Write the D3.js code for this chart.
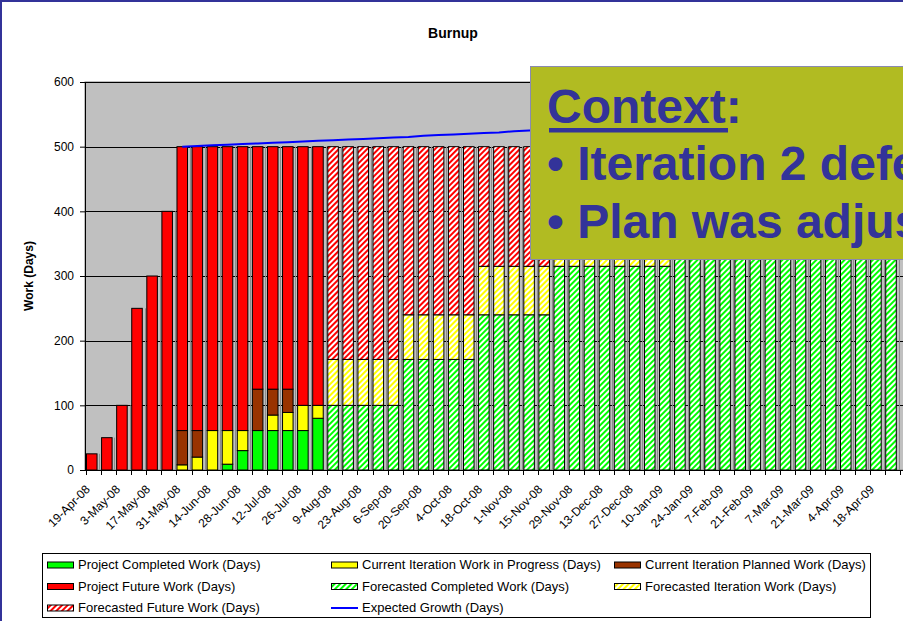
<!DOCTYPE html>
<html>
<head>
<meta charset="utf-8">
<script src="https://cdn.jsdelivr.net/npm/d3@7"></script>
<style>
  body { margin: 0; background: #fff; }
  svg { display: block; font-family: "Liberation Sans", Arial, sans-serif; }
</style>
</head>
<body>
<svg id="chart" width="903" height="621"></svg>
<script>

/**
 * burnup data - one value per week, stacked bottom to top
 */
var week_labels = [
  '19-Apr-08', '26-Apr-08', '3-May-08', '10-May-08', '17-May-08', '24-May-08', '31-May-08', '7-Jun-08',
  '14-Jun-08', '21-Jun-08', '28-Jun-08', '5-Jul-08', '12-Jul-08', '19-Jul-08', '26-Jul-08', '2-Aug-08',
  '9-Aug-08', '16-Aug-08', '23-Aug-08', '30-Aug-08', '6-Sep-08', '13-Sep-08', '20-Sep-08', '27-Sep-08',
  '4-Oct-08', '11-Oct-08', '18-Oct-08', '25-Oct-08', '1-Nov-08', '8-Nov-08', '15-Nov-08', '22-Nov-08',
  '29-Nov-08', '6-Dec-08', '13-Dec-08', '20-Dec-08', '27-Dec-08', '3-Jan-09', '10-Jan-09', '17-Jan-09',
  '24-Jan-09', '31-Jan-09', '7-Feb-09', '14-Feb-09', '21-Feb-09', '28-Feb-09', '7-Mar-09', '14-Mar-09',
  '21-Mar-09', '28-Mar-09', '4-Apr-09', '11-Apr-09', '18-Apr-09', '25-Apr-09'
];

var project_completed = [
  0, 0, 0, 0, 0, 0, 0, 0, 0, 9, 30, 61, 61, 61, 61, 80,
  0, 0, 0, 0, 0, 0, 0, 0, 0, 0, 0, 0, 0, 0, 0, 0, 0, 0, 0, 0, 0, 0, 0, 0,
  0, 0, 0, 0, 0, 0, 0, 0, 0, 0, 0, 0, 0, 0
];
var iteration_in_progress = [
  0, 0, 0, 0, 0, 0, 8, 20, 61, 52, 31, 0, 24, 28, 39, 20,
  0, 0, 0, 0, 0, 0, 0, 0, 0, 0, 0, 0, 0, 0, 0, 0, 0, 0, 0, 0, 0, 0, 0, 0,
  0, 0, 0, 0, 0, 0, 0, 0, 0, 0, 0, 0, 0, 0
];
var iteration_planned = [
  0, 0, 0, 0, 0, 0, 53, 41, 0, 0, 0, 64, 40, 36, 0, 0,
  0, 0, 0, 0, 0, 0, 0, 0, 0, 0, 0, 0, 0, 0, 0, 0, 0, 0, 0, 0, 0, 0, 0, 0,
  0, 0, 0, 0, 0, 0, 0, 0, 0, 0, 0, 0, 0, 0
];
var project_future = [
  25, 50, 100, 250, 300, 400, 439, 439, 439, 439, 439, 375, 375, 375, 400, 400,
  0, 0, 0, 0, 0, 0, 0, 0, 0, 0, 0, 0, 0, 0, 0, 0, 0, 0, 0, 0, 0, 0, 0, 0,
  0, 0, 0, 0, 0, 0, 0, 0, 0, 0, 0, 0, 0, 0
];
var forecast_completed = [
  0, 0, 0, 0, 0, 0, 0, 0, 0, 0, 0, 0, 0, 0, 0, 0,
  100, 100, 100, 100, 100, 171, 171, 171, 171, 171, 240, 240, 240, 240, 240,
  315, 315, 315, 315, 315, 315, 315, 315,
  385, 385, 385, 385, 385, 385, 385, 385, 385, 385, 385, 385, 385, 385, 385
];
var forecast_iteration = [
  0, 0, 0, 0, 0, 0, 0, 0, 0, 0, 0, 0, 0, 0, 0, 0,
  71, 71, 71, 71, 71, 69, 69, 69, 69, 69, 75, 75, 75, 75, 75,
  70, 70, 70, 70, 70, 70, 70, 70,
  70, 70, 70, 70, 70, 70, 70, 70, 70, 70, 70, 70, 70, 70, 70
];
var forecast_future = [
  0, 0, 0, 0, 0, 0, 0, 0, 0, 0, 0, 0, 0, 0, 0, 0,
  329, 329, 329, 329, 329, 260, 260, 260, 260, 260, 185, 185, 185, 185, 185,
  115, 115, 115, 115, 115, 115, 115, 115,
  45, 45, 45, 45, 45, 45, 45, 45, 45, 45, 45, 45, 45, 45, 45
];
var expected_growth = [
  null, null, null, null, null, null, 500, 501, 502, 503, 504, 505, 506, 507, 508, 509,
  510, 511, 512, 513, 514, 515, 517, 518, 519, 520, 521, 522, 524, 525, 526, 527,
  528, 529, 531, 532, 533, 534, 535, 536, 538, 539, 540, 541, 542, 543, 545, 546,
  547, 548, 549, 550, 552, 553
];

var y_ticks = [0, 100, 200, 300, 400, 500, 600];

var series_keys = ['completed', 'in_progress', 'planned', 'future', 'fc_completed', 'fc_iteration', 'fc_future'];


/**
 * chart container
 */
var app_burnup_chart = (function () {

  var svg = d3.select('#chart');

  var plot_top = 82, plot_bottom = 470, plot_left = 85;
  var bar_start = 86, bar_step = 15.08, bar_pad = 0.235;
  var n = week_labels.length;

  var x = d3.scaleBand()
    .domain(d3.range(n))
    .range([bar_start, bar_start + bar_step * (n - bar_pad)])
    .paddingInner(bar_pad)
    .paddingOuter(0);

  var y = d3.scaleLinear().domain([0, 600]).range([plot_bottom, plot_top]);

  var fills = {
    'completed' : '#00ff00',
    'in_progress' : '#ffff00',
    'planned' : '#993300',
    'future' : '#ff0000',
    'fc_completed' : 'url(#hatch_green)',
    'fc_iteration' : 'url(#hatch_yellow)',
    'fc_future' : 'url(#hatch_red)'
  };

  var rows = week_labels.map(function (w, i) {
    return {
      'completed' : project_completed[i],
      'in_progress' : iteration_in_progress[i],
      'planned' : iteration_planned[i],
      'future' : project_future[i],
      'fc_completed' : forecast_completed[i],
      'fc_iteration' : forecast_iteration[i],
      'fc_future' : forecast_future[i]
    };
  });

  var totals = rows.map(function (r) {
    return d3.sum(series_keys, function (k) { return r[k]; });
  });

  function initPatterns() {
    var defs = svg.append('defs');
    [['hatch_green', '#00ff00'], ['hatch_yellow', '#ffff00'], ['hatch_red', '#ff0000']].forEach(function (p) {
      var pat = defs.append('pattern')
        .attr('id', p[0])
        .attr('patternUnits', 'userSpaceOnUse')
        .attr('width', 4).attr('height', 4)
        .attr('patternTransform', 'rotate(45)');
      pat.append('rect').attr('width', 4).attr('height', 4).attr('fill', '#fff');
      pat.append('rect').attr('width', 2.2).attr('height', 4).attr('fill', p[1])
        .attr('shape-rendering', 'crispEdges');
    });
  }

  function drawFrame() {
    // outer blue frame (only left and top are inside the window)
    svg.append('rect')
      .attr('x', 1).attr('y', 1).attr('width', 1200).attr('height', 1200)
      .attr('fill', 'none').attr('stroke', '#333399').attr('stroke-width', 2);

    svg.append('text')
      .attr('x', 453).attr('y', 38)
      .attr('text-anchor', 'middle')
      .attr('font-size', 14).attr('font-weight', 'bold')
      .text('Burnup');
  }

  function drawPlotArea() {
    svg.append('rect')
      .attr('x', plot_left).attr('y', plot_top)
      .attr('width', 903 - plot_left + 20).attr('height', plot_bottom - plot_top)
      .attr('fill', '#c0c0c0').attr('stroke', '#808080');

    // horizontal gridlines
    svg.append('g').selectAll('line')
      .data(y_ticks.slice(1))
      .enter()
      .append('line')
      .attr('x1', plot_left).attr('x2', 910)
      .attr('y1', function (d) { return Math.round(y(d)) + 0.5; })
      .attr('y2', function (d) { return Math.round(y(d)) + 0.5; })
      .attr('stroke', '#000');

    // thin separators in the gaps, only as high as the lower neighbour bar
    svg.append('g').selectAll('line')
      .data(d3.range(1, n + 1))
      .enter()
      .append('line')
      .attr('x1', function (i) { return Math.round(bar_start + bar_step * i - 1.7) + 0.5; })
      .attr('x2', function (i) { return Math.round(bar_start + bar_step * i - 1.7) + 0.5; })
      .attr('y1', function (i) {
        var h = (i < n) ? Math.min(totals[i - 1], totals[i]) : totals[i - 1];
        return y(h);
      })
      .attr('y2', plot_bottom)
      .attr('stroke', '#8c8c8c');
  }

  function drawBars() {
    var stacked = d3.stack().keys(series_keys)(rows);

    svg.append('g').selectAll('g')
      .data(stacked)
      .enter()
      .append('g')
      .attr('fill', function (s) { return fills[s.key]; })
      .selectAll('rect')
      .data(function (s) { return s.map(function (v, i) { return { i : i, v : v }; }).filter(function (d) { return d.v[1] > d.v[0]; }); })
      .enter()
      .append('rect')
      .attr('x', function (d) { return x(d.i) + 0.5; })
      .attr('y', function (d) { return y(d.v[1]); })
      .attr('width', x.bandwidth() - 1)
      .attr('height', function (d) { return y(d.v[0]) - y(d.v[1]); })
      .attr('stroke', '#000')
      .attr('stroke-width', 1);
  }

  function drawGrowthLine() {
    var line = d3.line()
      .defined(function (d) { return d !== null; })
      .x(function (d, i) { return x(i) + x.bandwidth() / 2; })
      .y(function (d) { return y(d); });

    svg.append('path')
      .datum(expected_growth)
      .attr('d', line)
      .attr('fill', 'none')
      .attr('stroke', '#0000ff')
      .attr('stroke-width', 2);
  }

  function drawAxes() {
    var y_axis = svg.append('g')
      .attr('transform', 'translate(' + plot_left + ',0)')
      .call(d3.axisLeft(y).tickValues(y_ticks).tickSize(5).tickPadding(6).tickSizeOuter(0));
    y_axis.select('.domain').attr('stroke', '#000');
    y_axis.selectAll('text').attr('font-size', 12).attr('font-family', null).attr('fill', '#000');

    // x axis line + ticks at category edges
    svg.append('line')
      .attr('x1', plot_left).attr('x2', 910)
      .attr('y1', plot_bottom + 0.5).attr('y2', plot_bottom + 0.5)
      .attr('stroke', '#000');

    svg.append('g').selectAll('line')
      .data(d3.range(n + 1))
      .enter()
      .append('line')
      .attr('x1', function (i) { return Math.round(bar_start + bar_step * i) + 0.5; })
      .attr('x2', function (i) { return Math.round(bar_start + bar_step * i) + 0.5; })
      .attr('y1', plot_bottom).attr('y2', plot_bottom + 5)
      .attr('stroke', '#000');

    svg.append('g').selectAll('text')
      .data(week_labels.map(function (w, i) { return { w : w, i : i }; }).filter(function (d) { return d.i % 2 == 0; }))
      .enter()
      .append('text')
      .attr('transform', function (d) {
        return 'translate(' + (x(d.i) + x.bandwidth() / 2 - 1) + ',' + 490 + ') rotate(-45)';
      })
      .attr('text-anchor', 'end')
      .attr('font-size', 12)
      .text(function (d) { return d.w; });

    svg.append('text')
      .attr('transform', 'translate(33,276) rotate(-90)')
      .attr('text-anchor', 'middle')
      .attr('font-size', 12).attr('font-weight', 'bold')
      .text('Work (Days)');
  }

  function drawLegend() {
    var items = [
      { label : 'Project Completed Work (Days)', fill : fills['completed'] },
      { label : 'Current Iteration Work in Progress (Days)', fill : fills['in_progress'] },
      { label : 'Current Iteration Planned Work (Days)', fill : fills['planned'] },
      { label : 'Project Future Work (Days)', fill : fills['future'] },
      { label : 'Forecasted Completed Work (Days)', fill : fills['fc_completed'] },
      { label : 'Forecasted Iteration Work (Days)', fill : fills['fc_iteration'] },
      { label : 'Forecasted Future Work (Days)', fill : fills['fc_future'] },
      { label : 'Expected Growth (Days)', line : '#0000ff' }
    ];
    var col_x = [47, 331, 614];
    var row_y = [564.5, 586, 607.5];

    svg.append('rect')
      .attr('x', 42.5).attr('y', 553.5).attr('width', 828).attr('height', 64)
      .attr('fill', '#fff').attr('stroke', '#000');

    var g = svg.append('g').selectAll('g')
      .data(items)
      .enter()
      .append('g')
      .attr('transform', function (d, i) { return 'translate(' + col_x[i % 3] + ',' + row_y[Math.floor(i / 3)] + ')'; });

    g.filter(function (d) { return !d.line; })
      .append('rect')
      .attr('x', 0.5).attr('y', -2.5).attr('width', 26).attr('height', 6)
      .attr('fill', function (d) { return d.fill; })
      .attr('stroke', '#000');

    g.filter(function (d) { return d.line; })
      .append('line')
      .attr('x1', 0).attr('x2', 27).attr('y1', 0.5).attr('y2', 0.5)
      .attr('stroke', function (d) { return d.line; })
      .attr('stroke-width', 2);

    g.append('text')
      .attr('x', 31).attr('y', 4.5)
      .attr('font-size', 13)
      .text(function (d) { return d.label; });
  }

  function drawContextBox() {
    // callout covers the top right of the chart and runs off the slide edge
    svg.append('rect')
      .attr('x', 530.5).attr('y', 66.5).attr('width', 420).attr('height', 193)
      .attr('fill', '#b1bb22').attr('stroke', '#8a8ab0');

    var t = svg.append('g').attr('fill', '#333399').attr('font-weight', 'bold').attr('font-size', 48);
    t.append('text').attr('x', 547).attr('y', 123).text('Context:');
    t.append('rect').attr('x', 549).attr('y', 128).attr('width', 179).attr('height', 4.5);
    t.append('text').attr('x', 547).attr('y', 180).text('\u2022 Iteration 2 deferred');
    t.append('text').attr('x', 547).attr('y', 238).text('\u2022 Plan was adjusted');
  }

  function render() {
    initPatterns();
    drawFrame();
    drawPlotArea();
    drawBars();
    drawGrowthLine();
    drawAxes();
    drawLegend();
    drawContextBox();
  }

  return {
    'render' : render
  }

}());

app_burnup_chart.render();

</script>
</body>
</html>
